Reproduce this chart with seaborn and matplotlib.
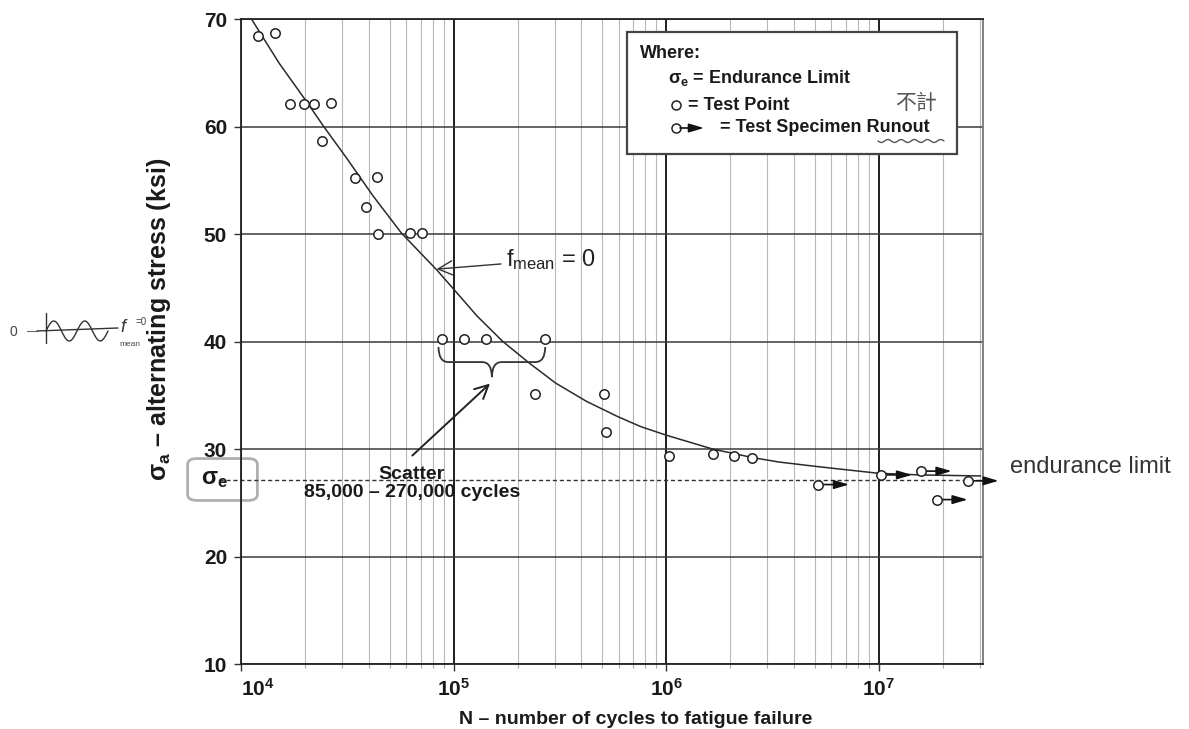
import numpy as np
import pandas as pd
import matplotlib
matplotlib.use("Agg")
import matplotlib.pyplot as plt
import seaborn as sns
from matplotlib.patches import Rectangle, FancyBboxPatch, PathPatch
from matplotlib.path import Path
from matplotlib.ticker import LogLocator, NullFormatter

# ---------------- data ----------------
test_cycles = [1.2e4, 1.45e4, 1.70e4, 1.98e4, 2.21e4, 2.65e4, 2.41e4, 3.45e4, 4.38e4,
               3.89e4, 4.4e4, 6.24e4, 7.14e4, 8.8e4, 1.12e5, 1.42e5, 2.70e5, 2.42e5,
               5.1e5, 5.2e5, 1.03e6, 1.66e6, 2.09e6, 2.55e6]
test_stress = [68.4, 68.7, 62.15, 62.15, 62.15, 62.25, 58.7, 55.2, 55.3,
               52.5, 50.0, 50.15, 50.15, 40.25, 40.25, 40.25, 40.25, 35.1,
               35.1, 31.6, 29.4, 29.5, 29.35, 29.2]
runout_cycles = [5.2e6, 1.03e7, 1.58e7, 1.88e7, 2.63e7]
runout_stress = [26.7, 27.6, 27.95, 25.3, 27.05]
curve_log_cycles = [4.05, 4.18, 4.31, 4.39, 4.50, 4.62, 4.755, 4.92, 5.0, 5.11, 5.23,
                    5.36, 5.48, 5.625, 5.77, 5.88, 6.0, 6.22, 6.41, 6.53, 6.70, 6.86,
                    7.0, 7.19, 7.48]
curve_stress = [70.0, 65.9, 62.3, 60.0, 57.0, 53.6, 50.1, 46.7, 44.9, 42.4, 40.05,
                37.95, 36.15, 34.45, 33.05, 32.1, 31.3, 30.0, 29.2, 28.8, 28.4, 28.05,
                27.75, 27.6, 27.5]
endurance_limit = 27.1
scatter_range = [8.5e4, 2.7e5]
x_ticks = [1e4, 1e5, 1e6, 1e7]
x_tick_labels = [r"$\mathbf{10^{4}}$", r"$\mathbf{10^{5}}$", r"$\mathbf{10^{6}}$", r"$\mathbf{10^{7}}$"]
y_ticks = [10, 20, 30, 40, 50, 60, 70]
y_tick_labels = ["10", "20", "30", "40", "50", "60", "70"]

# ---------------- style ----------------
sns.set_theme(style="white")
plt.rcParams["font.family"] = ["Liberation Sans", "DejaVu Sans"]
plt.rcParams["mathtext.fontset"] = "custom"
plt.rcParams["mathtext.rm"] = "Liberation Sans"
plt.rcParams["mathtext.it"] = "Liberation Sans:italic"
plt.rcParams["mathtext.bf"] = "Liberation Sans:bold"

W, H = 1189, 729
fig = plt.figure(figsize=(W / 100, H / 100), dpi=100)
fig.patch.set_facecolor("white")
L, R, T, B = 241, 983, 19.3, 664
ax = fig.add_axes([L / W, 1 - B / H, (R - L) / W, (B - T) / H])


def fx(px):
    return px / W


def fy(py):
    return 1 - py / H


FT = fig.transFigure
RUN_ARROW = "-|>,head_length=0.75,head_width=0.22"

# ---------------- marks ----------------
curve_df = pd.DataFrame({"N": np.power(10.0, curve_log_cycles), "S": curve_stress})
sns.lineplot(data=curve_df, x="N", y="S", ax=ax, color="#2a2a2a", lw=1.1,
             sort=False, estimator=None, zorder=3)

pts_df = pd.DataFrame({"N": test_cycles, "S": test_stress})
sns.scatterplot(data=pts_df, x="N", y="S", ax=ax, s=46, color="white",
                edgecolor="#222", linewidth=1.1, zorder=5)
run_df = pd.DataFrame({"N": runout_cycles, "S": runout_stress})
sns.scatterplot(data=run_df, x="N", y="S", ax=ax, s=46, color="white",
                edgecolor="#222", linewidth=1.1, zorder=5)
for n, s in zip(runout_cycles, runout_stress):
    ax.annotate("", xy=(n * 10 ** 0.145, s), xytext=(n * 10 ** 0.022, s),
                arrowprops=dict(arrowstyle=RUN_ARROW, color="#111", lw=1.2,
                                shrinkA=0, shrinkB=0),
                annotation_clip=False, zorder=4)

# endurance limit dashed line (extends slightly left of the axis)
ax.plot([-0.03, 1.0], [endurance_limit, endurance_limit], transform=ax.get_yaxis_transform(),
        color="#333", lw=1.0, ls=(0, (3, 2)), clip_on=False, zorder=2)

# ---------------- axes ----------------
ax.set_xscale("log")
ax.set_xlim(1e4, 3.1e7)
ax.set_ylim(10, 70)
ax.set_xticks(x_ticks)
ax.set_xticklabels(x_tick_labels, fontsize=15)
ax.xaxis.set_minor_locator(LogLocator(base=10, subs=range(2, 10), numticks=100))
ax.xaxis.set_minor_formatter(NullFormatter())
ax.set_yticks(y_ticks)
ax.set_yticklabels(y_tick_labels, fontsize=15, fontweight="bold")
ax.tick_params(axis="both", which="major", direction="out", length=5, width=1, color="#333",
               labelcolor="#1a1a1a", pad=5, bottom=True, left=True)
ax.tick_params(axis="x", which="minor", direction="out", length=3, width=0.8, color="#aaa", bottom=True)
ax.get_xticklabels()[0].set_horizontalalignment("left")

ax.xaxis.grid(True, which="major", color="#1e1e1e", lw=1.4)
ax.xaxis.grid(True, which="minor", color="#b8b8b8", lw=0.8)
ax.yaxis.grid(True, which="major", color="#3a3a3a", lw=1.1)
ax.set_axisbelow(True)
for side, sp in ax.spines.items():
    sp.set_visible(True)
    sp.set_color("#222")
    sp.set_linewidth(1.3)
ax.spines["right"].set_color("#777")

ax.set_xlabel("N – number of cycles to fatigue failure", fontsize=14, fontweight="bold", color="#1a1a1a")
ax.xaxis.set_label_coords((636 - L) / (R - L), (B - 711) / (B - T))
ax.set_ylabel(r"$\mathbf{\sigma_a}$ – alternating stress (ksi)", fontsize=18, fontweight="bold", color="#1a1a1a")
ax.yaxis.set_label_coords((173 - L) / (R - L), 0.534)

# ---------------- annotations ----------------
ax.annotate(r"f$_{\mathrm{mean}}$ = 0", xy=(8.32e4, 46.75), xytext=(1.76e5, 47.6),
            fontsize=17, va="center", ha="left", color="#222",
            arrowprops=dict(arrowstyle="->,head_length=0.6,head_width=0.3", color="#333",
                            lw=1.0, shrinkA=1, shrinkB=0), zorder=6)

xl, xr = scatter_range
xm = np.sqrt(xl * xr)
f = 10 ** 0.047
y0, y1, y2 = 39.5, 38.1, 36.7
verts = [(xl, y0), (xl, y1), (xl * f, y1), (xm / f, y1), (xm, y1), (xm, y2),
         (xm, y1), (xm * f, y1), (xr / f, y1), (xr, y1), (xr, y0)]
codes = [Path.MOVETO, Path.CURVE3, Path.CURVE3, Path.LINETO, Path.CURVE3, Path.CURVE3,
         Path.CURVE3, Path.CURVE3, Path.LINETO, Path.CURVE3, Path.CURVE3]
ax.add_patch(PathPatch(Path(verts, codes), fill=False, edgecolor="#333", lw=1.3, zorder=6))

ax.annotate("", xy=(xm * 0.98, 36.1), xytext=(6.4e4, 29.4),
            arrowprops=dict(arrowstyle="->,head_length=0.8,head_width=0.4", color="#222",
                            lw=1.4, shrinkA=0, shrinkB=0), zorder=6)
ax.text(6.37e4, 26.8, "Scatter\n85,000 – 270,000 cycles", fontsize=14, fontweight="bold",
        ha="center", va="center", linespacing=1.15, color="#1a1a1a", zorder=6)

# sigma_e label with hand-drawn box
ax.add_patch(FancyBboxPatch((fx(190), fy(499)), (255 - 190) / W, (499 - 460) / H,
                            boxstyle="round,pad=0.002,rounding_size=0.008", transform=FT,
                            facecolor="none", edgecolor="#b0b0b0", lw=2.0, clip_on=False, zorder=1))
ax.text(fx(215), fy(479), r"$\mathbf{\sigma_e}$", transform=FT, fontsize=17, ha="center",
        va="center", color="#1a1a1a", zorder=7)

# handwritten note at right
ax.text(fx(1010), fy(467), "endurance limit", transform=FT, fontsize=17, ha="left",
        va="center", color="#333", zorder=7)

# ---------------- legend box ----------------
ax.add_patch(Rectangle((fx(627), fy(154)), (957 - 627) / W, (154 - 32) / H, transform=FT,
                       facecolor="white", edgecolor="#444", lw=1.6, clip_on=False, zorder=8))
ax.text(fx(640), fy(54), "Where:", transform=FT, fontsize=13, fontweight="bold",
        ha="left", va="center", color="#1a1a1a", zorder=9)
ax.text(fx(668), fy(78), r"$\mathbf{\sigma_e}$ = Endurance Limit", transform=FT, fontsize=13,
        fontweight="bold", ha="left", va="center", color="#1a1a1a", zorder=9)
ax.plot([fx(676)], [fy(105)], "o", transform=FT, mfc="white", mec="#222", ms=6.5, mew=1.1,
        clip_on=False, zorder=9)
ax.text(fx(688), fy(105), "= Test Point", transform=FT, fontsize=13, fontweight="bold",
        ha="left", va="center", color="#1a1a1a", zorder=9)
ax.plot([fx(676)], [fy(128)], "o", transform=FT, mfc="white", mec="#222", ms=6.5, mew=1.1,
        clip_on=False, zorder=9)
ax.annotate("", xy=(fx(704), fy(128)), xytext=(fx(680), fy(128)), xycoords="figure fraction",
            textcoords="figure fraction",
            arrowprops=dict(arrowstyle=RUN_ARROW, color="#111", lw=1.2, shrinkA=0, shrinkB=0),
            zorder=9)
ax.text(fx(720), fy(128), "= Test Specimen Runout", transform=FT, fontsize=13, fontweight="bold",
        ha="left", va="center", color="#1a1a1a", zorder=9)
ax.text(fx(916), fy(103), "不計", transform=FT, fontsize=15, ha="center", va="center",
        color="#555", family=["Noto Sans CJK TC", "DejaVu Sans"], fontweight="light", zorder=9)
wx = np.linspace(878, 944, 60)
wy = 141 + 1.5 * np.sin((wx - 878) / 66 * 2 * np.pi * 5)
ax.plot(fx(wx), fy(wy), transform=FT, color="#555", lw=1.0, clip_on=False, zorder=9)

# ---------------- sketch at far left ----------------
ax.text(fx(13), fy(332), "0", transform=FT, fontsize=10, ha="center", va="center", color="#444")
ax.plot([fx(27), fx(37)], [fy(331), fy(331)], transform=FT, color="#666", lw=0.8, clip_on=False)
ax.plot([fx(37), fx(118)], [fy(331), fy(328)], transform=FT, color="#333", lw=1.0, clip_on=False)
ax.plot([fx(45.7), fx(45.7)], [fy(313), fy(343)], transform=FT, color="#333", lw=1.0, clip_on=False)
sx = np.linspace(46, 108, 80)
sy = 331 - 10 * np.sin((sx - 46) / 62 * 2 * np.pi * 2)
ax.plot(fx(sx), fy(sy), transform=FT, color="#333", lw=1.0, clip_on=False)
ax.text(fx(123), fy(327), "f", transform=FT, fontsize=13, ha="center", va="center", color="#333",
        fontstyle="italic")
ax.text(fx(141), fy(322), "=0", transform=FT, fontsize=7, ha="center", va="center", color="#444")
ax.text(fx(130), fy(344), "mean", transform=FT, fontsize=6, ha="center", va="center", color="#444")

fig.savefig("out.png", dpi=100, facecolor="white")
